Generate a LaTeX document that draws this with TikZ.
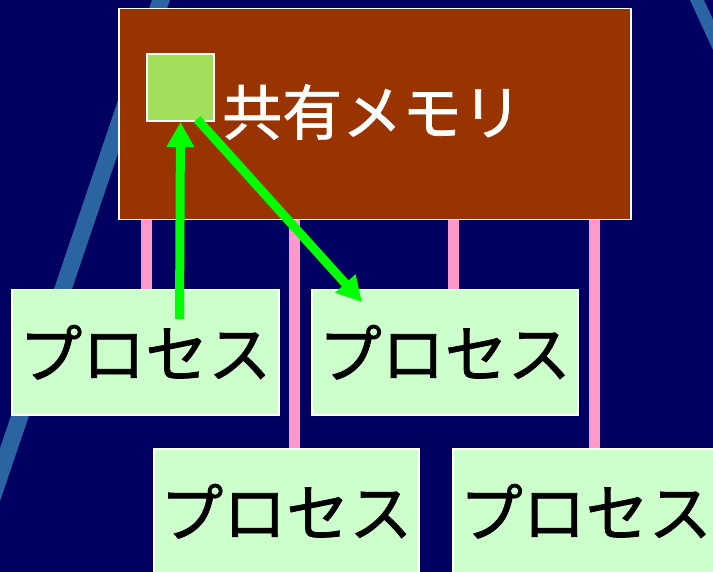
\documentclass[tikz,border=0pt]{standalone}
\usepackage{fontspec}
\newfontfamily\jpfont[FakeBold=1.2]{Noto Sans CJK JP}
\usetikzlibrary{arrows.meta,calc}
\definecolor{bgnavy}{RGB}{0,0,96}
\definecolor{stripeblue}{RGB}{42,100,162}
\definecolor{brownmem}{RGB}{153,51,0}
\definecolor{sqgreen}{RGB}{162,224,92}
\definecolor{pinkline}{RGB}{255,153,204}
\definecolor{procfill}{RGB}{204,255,204}
\definecolor{arrowgreen}{RGB}{0,255,0}
\pgfdeclarelayer{connlayer}
\pgfdeclarelayer{bglayer}
\pgfsetlayers{bglayer,connlayer,main}
\begin{document}
\begin{tikzpicture}[x=1pt,y=-1pt,
  membox/.style={draw=white,line width=1.5pt,fill=brownmem,minimum width=512pt,minimum height=211pt,inner sep=0pt,anchor=north west},
  sqbox/.style={draw=white,line width=2pt,fill=sqgreen,minimum width=67pt,minimum height=67pt,inner sep=0pt,anchor=north west},
  memlabel/.style={text=white,font=\jpfont\fontsize{60}{60}\selectfont,inner sep=0pt,anchor=west},
  procbox/.style={draw=white,line width=1.5pt,fill=procfill,minimum height=125pt,inner sep=0pt,anchor=north west,text=black,font=\jpfont\fontsize{63}{63}\selectfont},
  pinkconn/.style={draw=pinkline,line width=11pt},
  garrow/.style={draw=arrowgreen,line width=9pt,-{Triangle[width=26pt,length=25pt]}}
]
\useasboundingbox (0,0) rectangle (713,572);
\begin{pgfonlayer}{bglayer}
\fill[bgnavy] (0,0) rectangle (713,572);
\fill[stripeblue] (152,0) -- (170,0) -- (-24,572) -- (-42,572) -- cycle;
\fill[stripeblue] (690,0) -- (704,0) -- (750,100) -- (736,100) -- cycle;
\end{pgfonlayer}

% nodes
\node[membox] (mem) at (118,8) {};
\node[sqbox] (sq) at (146,53) {};
\node[memlabel] (lbl) at (222,112) {共有メモリ};
\node[procbox,minimum width=267pt] (p1) at (11,289) {プロセス};
\node[procbox,minimum width=266pt] (p2) at (311,289) {プロセス};
\node[procbox,minimum width=265pt] (p3) at (153,448) {プロセス};
\node[procbox,minimum width=266pt] (p4) at (452,448) {プロセス};

% pink connectors (behind boxes)
\coordinate (x1) at (146,0);
\coordinate (x2) at (294,0);
\coordinate (x3) at (453,0);
\coordinate (x4) at (594,0);
\begin{pgfonlayer}{connlayer}
\path[pinkconn] (x1 |- mem.south) -- (x1 |- p1.north);
\path[pinkconn] (x2 |- mem.south) -- (x2 |- p3.north);
\path[pinkconn] (x3 |- mem.south) -- (x3 |- p2.north);
\path[pinkconn] (x4 |- mem.south) -- (x4 |- p4.north);
\end{pgfonlayer}

% green arrows
\coordinate (a1s) at (179.5,319);
\coordinate (a2s) at (197,119);
\coordinate (a2e) at (362,302);
\draw[garrow] (a1s) -- (sq.south);
\draw[garrow] (a2s) -- (a2e);
\end{tikzpicture}
\end{document}
